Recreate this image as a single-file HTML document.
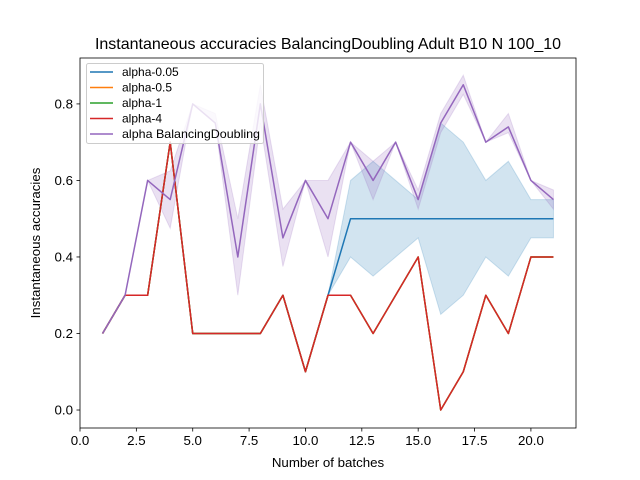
<!DOCTYPE html>
<html><head><meta charset="utf-8"><style>
body{margin:0;background:#fff;}
svg{display:block;font-family:"Liberation Sans","DejaVu Sans",sans-serif;}
</style></head><body>
<svg id="chart" width="640" height="480"></svg>
<script>
const xs=[1,2,3,4,5,6,7,8,9,10,11,12,13,14,15,16,17,18,19,20,21];
const redVals=[0.2,0.3,0.3,0.7,0.2,0.2,0.2,0.2,0.3,0.1,0.3,0.3,0.2,0.3,0.4,0,0.1,0.3,0.2,0.4,0.4];
const blueVals=[0.2,0.3,0.3,0.7,0.2,0.2,0.2,0.2,0.3,0.1,0.3,0.5,0.5,0.5,0.5,0.5,0.5,0.5,0.5,0.5,0.5];
const blueLo=[0.2,0.3,0.3,0.7,0.2,0.2,0.2,0.2,0.3,0.1,0.3,0.4,0.35,0.4,0.45,0.25,0.3,0.4,0.35,0.45,0.45];
const blueHi=[0.2,0.3,0.3,0.7,0.2,0.2,0.2,0.2,0.3,0.1,0.3,0.6,0.65,0.6,0.55,0.75,0.7,0.6,0.65,0.55,0.55];
const purpleVals=[0.2,0.3,0.6,0.55,0.8,0.75,0.4,0.8,0.45,0.6,0.5,0.7,0.6,0.7,0.55,0.75,0.85,0.7,0.74,0.6,0.55];
const purpleLo=[0.2,0.3,0.6,0.475,0.8,0.75,0.3,0.75,0.375,0.6,0.4,0.7,0.55,0.7,0.525,0.725,0.825,0.7,0.725,0.6,0.525];
const purpleHi=[0.2,0.3,0.6,0.625,0.8,0.775,0.5,0.85,0.525,0.6,0.6,0.7,0.65,0.7,0.575,0.775,0.875,0.7,0.775,0.6,0.575];
const xTicks=[0,2.5,5,7.5,10,12.5,15,17.5,20];
const xTickLabels=["0.0","2.5","5.0","7.5","10.0","12.5","15.0","17.5","20.0"];
const yTicks=[0,0.2,0.4,0.6,0.8];
const yTickLabels=["0.0","0.2","0.4","0.6","0.8"];

const L=80,R=576,T=58,B=428;
const xMin=0,xMax=22,yMin=-0.047,yMax=0.92;
const sx=v=>L+(v-xMin)/(xMax-xMin)*(R-L);
const sy=v=>B-(v-yMin)/(yMax-yMin)*(B-T);
const svg=document.getElementById('chart');
const NS='http://www.w3.org/2000/svg';
function mk(tag,attrs,parent){const e=document.createElementNS(NS,tag);for(const k in attrs)e.setAttribute(k,attrs[k]);(parent||svg).appendChild(e);return e;}
function band(lo,hi,color,name){
  let d='M'+xs.map((x,i)=>sx(x)+','+sy(hi[i])).join('L');
  d+='L'+xs.slice().reverse().map((x,j)=>{const i=xs.length-1-j;return sx(x)+','+sy(lo[i]);}).join('L')+'Z';
  const p=mk('path',{d:d,fill:color,'fill-opacity':0.2,stroke:color,'stroke-opacity':0.2});
  
  
}
function line(vals,color,name){
  const p=mk('polyline',{points:xs.map((x,i)=>sx(x)+','+sy(vals[i])).join(' '),fill:'none',stroke:color,'stroke-width':1.5,'stroke-linejoin':'round'});
  
  
}
band(blueLo,blueHi,'#1f77b4','band-alpha-0.05');
band(purpleLo,purpleHi,'#9467bd','band-alpha-balancing');
line(blueVals,'#1f77b4','line-alpha-0.05');
line(redVals,'#ff7f0e','line-alpha-0.5');
line(redVals,'#2ca02c','line-alpha-1');
line(redVals,'#d62728','line-alpha-4');
line(purpleVals,'#9467bd','line-alpha-balancing');
const frame=mk('rect',{x:L,y:T,width:R-L,height:B-T,fill:'none',stroke:'#000','stroke-width':0.8});


xTicks.forEach((v,i)=>{
  mk('line',{x1:sx(v),x2:sx(v),y1:B,y2:B+3.5,stroke:'#000','stroke-width':0.8});
  const t=mk('text',{x:sx(v),y:B+17,'text-anchor':'middle','font-size':13.3});
  t.textContent=xTickLabels[i];
  
  
});
yTicks.forEach((v,i)=>{
  mk('line',{x1:L-3.5,x2:L,y1:sy(v),y2:sy(v),stroke:'#000','stroke-width':0.8});
  const t=mk('text',{x:L-7,y:sy(v)+4.5,'text-anchor':'end','font-size':13.3});
  t.textContent=yTickLabels[i];
  
  
});
</script>
<div style="position:absolute;left:0;top:0;width:640px;height:480px;pointer-events:none;">
<svg width="640" height="480" style="font-family:'Liberation Sans','DejaVu Sans',sans-serif;">
<text x="328" y="49" text-anchor="middle" font-size="16">Instantaneous accuracies BalancingDoubling Adult B10 N 100_10</text>
<text x="328" y="467" text-anchor="middle" font-size="13.3">Number of batches</text>
<text transform="translate(40,243) rotate(-90)" text-anchor="middle" font-size="13.3">Instantaneous accuracies</text>
<g>
<rect x="86.5" y="63.5" width="177" height="80" rx="2" fill="#fff" fill-opacity="0.8" stroke="#ccc"/>
<g><line x1="90" x2="113" y1="72" y2="72" stroke="#1f77b4" stroke-width="1.5"/><text x="122" y="76" font-size="12">alpha-0.05</text></g>
<g><line x1="90" x2="113" y1="87.5" y2="87.5" stroke="#ff7f0e" stroke-width="1.5"/><text x="122" y="91.5" font-size="12">alpha-0.5</text></g>
<g><line x1="90" x2="113" y1="103" y2="103" stroke="#2ca02c" stroke-width="1.5"/><text x="122" y="107" font-size="12">alpha-1</text></g>
<g><line x1="90" x2="113" y1="118.5" y2="118.5" stroke="#d62728" stroke-width="1.5"/><text x="122" y="122.5" font-size="12">alpha-4</text></g>
<g><line x1="90" x2="113" y1="134" y2="134" stroke="#9467bd" stroke-width="1.5"/><text x="122" y="138" font-size="12" textLength="138" lengthAdjust="spacingAndGlyphs">alpha BalancingDoubling</text></g>
</g>
</svg></div>
</body></html>
